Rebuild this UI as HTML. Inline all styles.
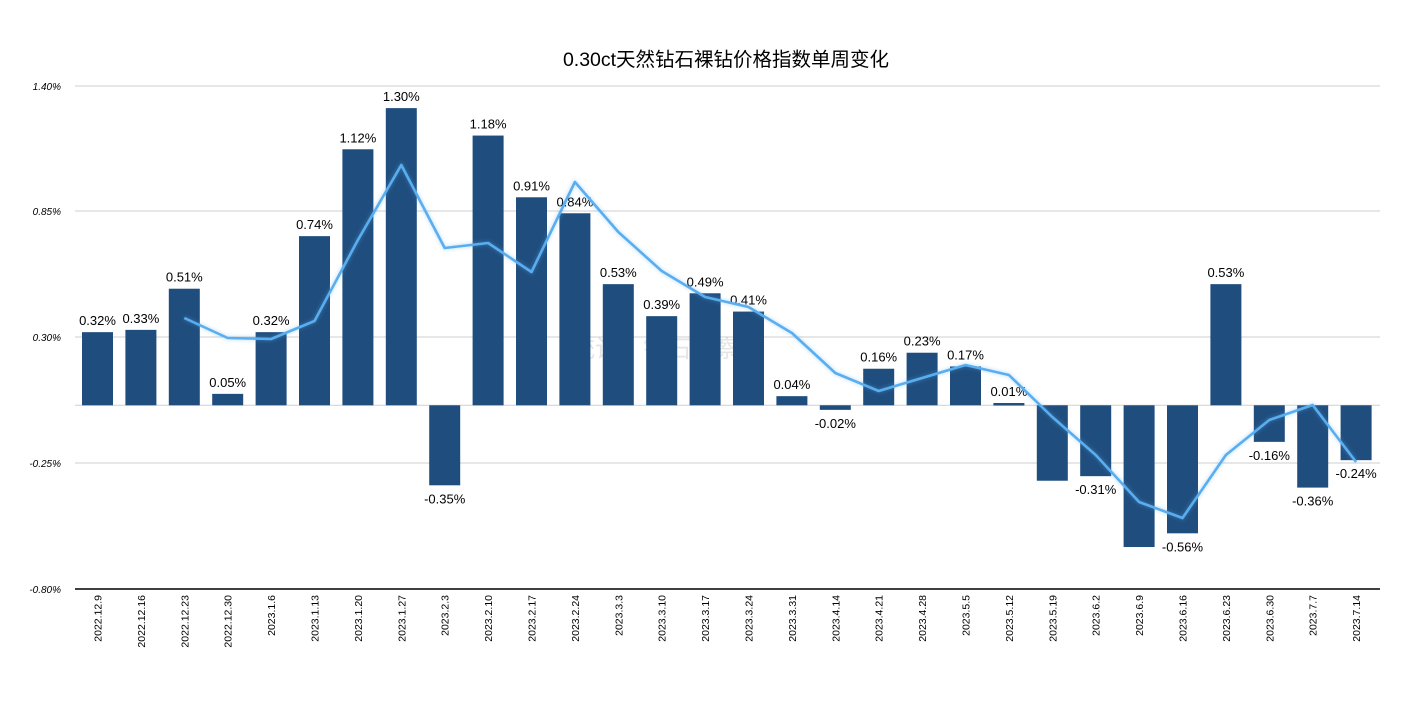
<!DOCTYPE html>
<html><head><meta charset="utf-8"><style>
html,body{margin:0;padding:0;background:#fff;}
svg{display:block;font-family:"Liberation Sans","Noto Sans CJK SC",sans-serif;}
</style></head><body>
<svg id="c" width="1411" height="702" viewBox="0 0 1411 702" xmlns="http://www.w3.org/2000/svg">
<defs><filter id="sh" x="-10%" y="-10%" width="120%" height="140%"><feGaussianBlur stdDeviation="1.5"/></filter></defs>
<text x="726" y="66" text-anchor="middle" font-size="19.5" fill="#000">0.30ct天然钻石裸钻价格指数单周变化</text>
<g id="grid" stroke="#cfcfcf" stroke-width="1"></g>
<text x="655" y="357" text-anchor="middle" font-size="24" fill="#000" opacity="0.1">统计：钻石观察</text>
<g id="bars" fill="#1f4e7e"></g>
<g id="lbl" font-size="13" fill="#000" text-anchor="middle"></g>
<g id="yl" font-size="10" font-style="italic" fill="#000" text-anchor="end"></g>
<g id="xl" font-size="10.5" fill="#000" text-anchor="end"></g>
<polyline id="ln2" fill="none" stroke="#5aaef0" stroke-width="5" opacity="0.25" filter="url(#sh)" stroke-linejoin="round"/>
<polyline id="ln" fill="none" stroke="#5aaef0" stroke-width="2.6" stroke-linejoin="round"/>
<line x1="75" y1="589" x2="1380" y2="589" stroke="#000" stroke-width="1.5"/>
</svg>
<script>
var ns="http://www.w3.org/2000/svg";
function el(t,a,p,txt){var e=document.createElementNS(ns,t);for(var k in a)e.setAttribute(k,a[k]);if(txt!==undefined)e.textContent=txt;document.getElementById(p).appendChild(e);return e;}
var vals=[0.32,0.33,0.51,0.05,0.32,0.74,1.12,1.30,-0.35,1.18,0.91,0.84,0.53,0.39,0.49,0.41,0.04,-0.02,0.16,0.23,0.17,0.01,-0.33,-0.31,-0.62,-0.56,0.53,-0.16,-0.36,-0.24];
var show=[1,1,1,1,1,1,1,1,1,1,1,1,1,1,1,1,1,1,1,1,1,1,0,1,0,1,1,1,1,1];
var dates=["2022.12.9","2022.12.16","2022.12.23","2022.12.30","2023.1.6","2023.1.13","2023.1.20","2023.1.27","2023.2.3","2023.2.10","2023.2.17","2023.2.24","2023.3.3","2023.3.10","2023.3.17","2023.3.24","2023.3.31","2023.4.14","2023.4.21","2023.4.28","2023.5.5","2023.5.12","2023.5.19","2023.6.2","2023.6.9","2023.6.16","2023.6.23","2023.6.30","2023.7.7","2023.7.14"];
var line=[null,null,318,338,339,321,240,165,248,243,272,182,232,271,297,307,333,373,391,378,365,375,417,455,502,518,455,420,405,462];
var z=405.3,s=228.6,x0=97.5,dx=43.4,bw=31;
var ticks=[["1.40%",86],["0.85%",211],["0.30%",337],["-0.25%",463],["-0.80%",589]];
ticks.forEach(function(t){if(t[1]<589)el("line",{x1:75,x2:1380,y1:t[1],y2:t[1]},"grid");el("text",{x:61,y:t[1]+4},"yl",t[0]);});
el("line",{x1:75,x2:1380,y1:z,y2:z},"grid");
var pts=[];
vals.forEach(function(v,i){var cx=x0+i*dx,h=v*s;var y=h>=0?z-h:z;
el("rect",{x:cx-bw/2,y:y,width:bw,height:Math.max(Math.abs(h),2.5)},"bars");
var ly=v>=0?z-h-7:z-h+18;
if(show[i])el("text",{x:cx,y:ly},"lbl",(v*1).toFixed(2)+"%");
el("text",{transform:"translate("+(cx+4)+",595) rotate(-90)"},"xl",dates[i]);
if(line[i]!==null)pts.push(cx+","+line[i]);});
document.getElementById("ln").setAttribute("points",pts.join(" "));
document.getElementById("ln2").setAttribute("points",pts.join(" "));
</script>
</body></html>
